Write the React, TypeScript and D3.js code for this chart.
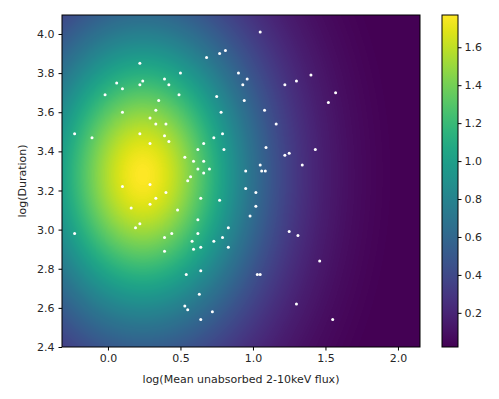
import React from "react";
import * as d3 from "d3";

// scatter points: [log flux, log duration]
const fluxValues = [
  0.22, 0.68, 0.77, 0.81, 0.5, 0.9, 0.06, 0.24, 0.39, 0.1, 0.22, 0.42, -0.02, 0.49, 0.75, 0.35,
  0.33, 0.1, 0.78, 0.29, 0.33, 0.4, -0.23, -0.11, 0.22, 0.39, 0.79, 0.73, 0.29, 0.42, 0.66, 0.62,
  0.8, 0.53, 0.59, 0.66, 0.62, 0.7, 0.66, 0.57, 0.55, 0.1, 0.29, 0.4, 0.33, 0.29, 0.16, 0.48,
  0.64, 0.77, 0.62, 0.22, 0.19, 0.83, -0.23, 0.44, 0.39, 0.62, 0.79, 0.58, 0.73, 0.64, 0.83, 0.59,
  0.39, 0.64, 0.54, 0.63, 0.53, 0.55, 0.72, 0.64, 1.05, 0.96, 0.93, 1.22, 1.3, 1.4, 1.57, 1.52,
  0.94, 1.08, 1.16, 1.09, 1.43, 1.22, 1.25, 1.05, 1.34, 0.95, 1.06, 1.085, 0.95, 1.02, 1.02, 0.98,
  1.25, 1.31, 1.46, 1.03, 1.05, 1.3, 1.55,
];
const durationValues = [
  3.85, 3.88, 3.9, 3.915, 3.8, 3.8, 3.75, 3.76, 3.77, 3.72, 3.74, 3.74, 3.69, 3.69, 3.68, 3.66,
  3.61, 3.6, 3.6, 3.57, 3.54, 3.54, 3.49, 3.47, 3.49, 3.48, 3.49, 3.47, 3.44, 3.45, 3.44, 3.41,
  3.41, 3.37, 3.35, 3.35, 3.31, 3.31, 3.29, 3.27, 3.25, 3.22, 3.23, 3.19, 3.16, 3.13, 3.11, 3.1,
  3.16, 3.15, 3.05, 3.03, 3.01, 3.01, 2.98, 2.98, 2.96, 2.98, 2.96, 2.94, 2.94, 2.91, 2.91, 2.9,
  2.89, 2.79, 2.77, 2.67, 2.61, 2.59, 2.58, 2.54, 4.01, 3.77, 3.74, 3.74, 3.76, 3.79, 3.7, 3.65,
  3.66, 3.61, 3.54, 3.42, 3.41, 3.38, 3.39, 3.33, 3.33, 3.3, 3.3, 3.3, 3.21, 3.19, 3.12, 3.07,
  2.99, 2.97, 2.84, 2.77, 2.77, 2.62, 2.54,
];

// smooth density field
const densityPeak = 1.77;
const densityMin = 0.02;
const densityCenter = [0.24, 3.28];
const densityScale = [0.77, 0.8];
const densityShape = 1.8;

const xTicks = [0.0, 0.5, 1.0, 1.5, 2.0];
const yTicks = [2.4, 2.6, 2.8, 3.0, 3.2, 3.4, 3.6, 3.8, 4.0];
const cbarTicks = [0.2, 0.4, 0.6, 0.8, 1.0, 1.2, 1.4, 1.6];

export default function App() {
  const ref = React.useRef<SVGSVGElement>(null);

  React.useEffect(() => {
    const width = 499;
    const height = 399;
    const marginLeft = 62;
    const marginRight = 79;
    const marginTop = 15;
    const marginBottom = 52;
    const fontFamily = "DejaVu Sans, sans-serif";
    const textColor = "#262626";

    const x = d3.scaleLinear().domain([-0.317, 2.152]).range([marginLeft, width - marginRight]);
    const y = d3.scaleLinear().domain([2.4, 4.097]).range([height - marginBottom, marginTop]);
    const color = d3.scaleSequential(d3.interpolateViridis).domain([densityMin, densityPeak]);

    const svg = d3.select(ref.current);
    svg.selectAll("*").remove();
    svg.attr("width", width).attr("height", height).attr("viewBox", [0, 0, width, height]);

    // background density image
    const pw = Math.round(x.range()[1] - x.range()[0]);
    const ph = Math.round(y.range()[0] - y.range()[1]);
    const canvas = document.createElement("canvas");
    canvas.width = pw;
    canvas.height = ph;
    const ctx = canvas.getContext("2d")!;
    const img = ctx.createImageData(pw, ph);
    for (let j = 0; j < ph; j++) {
      const yv = y.invert(marginTop + j + 0.5);
      for (let i = 0; i < pw; i++) {
        const xv = x.invert(marginLeft + i + 0.5);
        const dx = (xv - densityCenter[0]) / densityScale[0];
        const dy = (yv - densityCenter[1]) / densityScale[1];
        const r = Math.sqrt(dx * dx + dy * dy);
        const v = densityPeak * Math.exp(-Math.pow(r, densityShape));
        const c = d3.rgb(color(Math.max(densityMin, v)));
        const k = (j * pw + i) * 4;
        img.data[k] = c.r;
        img.data[k + 1] = c.g;
        img.data[k + 2] = c.b;
        img.data[k + 3] = 255;
      }
    }
    ctx.putImageData(img, 0, 0);
    svg.append("image")
      .attr("x", marginLeft)
      .attr("y", marginTop)
      .attr("width", pw)
      .attr("height", ph)
      .attr("preserveAspectRatio", "none")
      .attr("href", canvas.toDataURL());

    // scatter
    svg.append("g")
      .attr("fill", "white")
      .selectAll("circle")
      .data(d3.range(fluxValues.length))
      .join("circle")
      .attr("cx", (i) => x(fluxValues[i]))
      .attr("cy", (i) => y(durationValues[i]))
      .attr("r", 1.5);

    // frame
    svg.append("rect")
      .attr("x", marginLeft)
      .attr("y", marginTop)
      .attr("width", pw)
      .attr("height", ph)
      .attr("fill", "none")
      .attr("stroke", "black")
      .attr("stroke-width", 1);

    const xAxis = svg.append("g")
      .attr("transform", `translate(0,${height - marginBottom})`)
      .call(d3.axisBottom(x).tickValues(xTicks).tickFormat(d3.format(".1f")).tickSize(3.5).tickPadding(4));
    const yAxis = svg.append("g")
      .attr("transform", `translate(${marginLeft},0)`)
      .call(d3.axisLeft(y).tickValues(yTicks).tickFormat(d3.format(".1f")).tickSize(3.5).tickPadding(4));
    for (const a of [xAxis, yAxis]) {
      a.select(".domain").remove();
      a.selectAll("text").attr("font-family", fontFamily).attr("font-size", 11).attr("fill", textColor);
      a.selectAll("line").attr("stroke", "black");
    }

    svg.append("text")
      .attr("x", (x.range()[0] + x.range()[1]) / 2)
      .attr("y", 383)
      .attr("text-anchor", "middle")
      .attr("font-family", fontFamily)
      .attr("font-size", 11)
      .attr("fill", textColor)
      .text("log(Mean unabsorbed 2-10keV flux)");

    svg.append("text")
      .attr("transform", `translate(26,${(y.range()[0] + y.range()[1]) / 2}) rotate(-90)`)
      .attr("text-anchor", "middle")
      .attr("font-family", fontFamily)
      .attr("font-size", 11)
      .attr("fill", textColor)
      .text("log(Duration)");

    // colorbar
    const cbX = 442;
    const cbW = 16;
    const cb = d3.scaleLinear().domain([densityMin, densityPeak]).range([height - marginBottom, marginTop]);
    const grad = svg.append("defs").append("linearGradient")
      .attr("id", "cbgrad")
      .attr("x1", 0).attr("y1", 1).attr("x2", 0).attr("y2", 0);
    grad.selectAll("stop")
      .data(d3.range(0, 1.0001, 0.05))
      .join("stop")
      .attr("offset", (t) => t)
      .attr("stop-color", (t) => d3.interpolateViridis(t));
    svg.append("rect")
      .attr("x", cbX)
      .attr("y", marginTop)
      .attr("width", cbW)
      .attr("height", ph)
      .attr("fill", "url(#cbgrad)")
      .attr("stroke", "black")
      .attr("stroke-width", 1);
    const cAxis = svg.append("g")
      .attr("transform", `translate(${cbX + cbW},0)`)
      .call(d3.axisRight(cb).tickValues(cbarTicks).tickFormat(d3.format(".1f")).tickSize(3.5).tickPadding(3));
    cAxis.select(".domain").remove();
    cAxis.selectAll("text").attr("font-family", fontFamily).attr("font-size", 11).attr("fill", textColor);
    cAxis.selectAll("line").attr("stroke", "black");
  }, []);

  return <svg ref={ref} style={{ position: "absolute", left: 0, top: 0 }}></svg>;
}
